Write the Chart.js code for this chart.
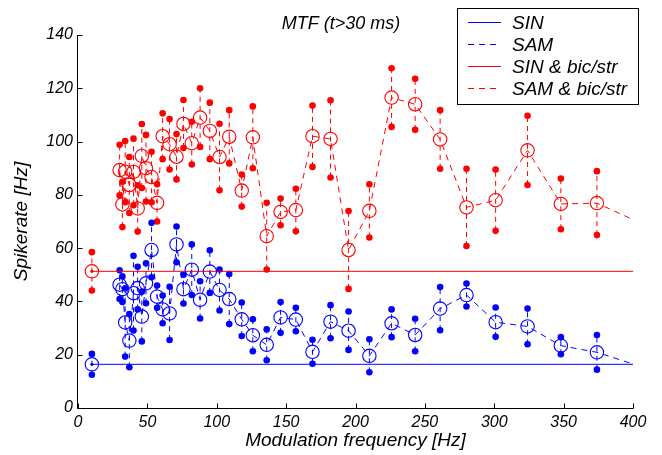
<!DOCTYPE html>
<html>
<head>
<meta charset="utf-8">
<script src="https://cdn.jsdelivr.net/npm/chart.js@4.4.1/dist/chart.umd.min.js"></script>
<style>
  html, body { margin: 0; padding: 0; background: #fff; }
</style>
</head>
<body>
<canvas id="mtfChart" width="662" height="455"></canvas>
<script>
// MTF data
const titleText = 'MTF (t>30 ms)';
const xTicks = [0, 50, 100, 150, 200, 250, 300, 350, 400];
const yTicks = [0, 20, 40, 60, 80, 100, 120, 140];

// SIN (unmodulated) reference, one point each
const sinFreq = 10;
const sinRate = 16.4;
const sinErr = 3.9;
const sinBicRate = 51.3;
const sinBicErr = 7.2;

// SAM modulation frequencies [Hz] (last one lies just past the axis)
const samFreq = [30, 32, 34, 37, 40, 43, 46, 49, 53, 57, 61, 66, 71, 76, 82, 88, 95, 102, 109,
  118, 126, 136, 146, 157, 169, 182, 195, 210, 226, 243, 261, 280, 301, 324, 348, 374, 403];

// SAM spikerate [Hz] and error
const samRate = [46.3, 44.6, 32.1, 25.3, 43.1, 45, 34.3, 46.8, 59.3, 41.8, 37, 35.5, 61.4, 44.6,
  51.9, 40.6, 51.2, 44.3, 40.9, 33.3, 27.3, 23.7, 34, 33.2, 21.1, 32.4, 29, 19.6, 31.8, 27.4,
  37.3, 42.4, 32.2, 30.6, 23.4, 20.9, 16];
const samErr = [5.4, 4.8, 12.8, 10, 14, 8, 9.3, 7.5, 10.2, 4.2, 5.2, 10, 6.7, 5.4, 9.5, 7, 8,
  7.7, 9.4, 6.3, 6, 5.8, 5.8, 4.4, 4.5, 6.2, 7.2, 6.2, 5.2, 6.1, 8.1, 4.3, 5.5, 6.7, 3.2, 6.5, 0];

// SAM & bic/str spikerate [Hz] and error
const samBicRate = [89.3, 76.4, 88.7, 83.7, 88.6, 74.9, 94.6, 90, 86.7, 77, 102, 99, 94.3, 106.6,
  99.4, 109, 104, 94.2, 101.8, 81.6, 101.6, 64.5, 73.6, 74.3, 102, 101, 59.3, 74, 116.5, 114,
  100.8, 75.3, 78, 96.7, 76.6, 76.9, 70];
const samBicErr = [9.5, 8.5, 11.5, 10.5, 12.5, 8.7, 12, 12.5, 9.5, 7, 8.6, 9.5, 8.5, 9, 8, 11,
  10.6, 12.5, 10, 6, 11.6, 12.5, 5, 8, 11.5, 14.5, 14.6, 10, 11, 9.6, 11, 14.5, 11.5, 13, 9.5, 12, 0];

const BLUE = '#0000ff';
const RED = '#ff0000';
const FONT = '"Liberation Sans", Arial, Helvetica, sans-serif';
const xMax = xTicks[xTicks.length - 1];

// build points for the mean curve
function toPoints(xs, ys) {
  return xs.map((x, i) => ({ x: x, y: ys[i] }));
}

// error bars as lo/hi pairs split by gaps
function errPoints(xs, ys, es) {
  const pts = [];
  xs.forEach((x, i) => {
    if (!es[i]) return;
    pts.push({ x: x, y: ys[i] - es[i] });
    pts.push({ x: x, y: ys[i] + es[i] });
    pts.push({ x: x, y: null });
  });
  return pts;
}

function meanSet(label, pts, color, dash) {
  return {
    label: label,
    data: pts,
    showLine: true,
    borderColor: color,
    borderWidth: 1,
    borderDash: dash,
    backgroundColor: 'rgba(0,0,0,0)',
    pointBorderColor: color,
    pointBorderWidth: 1.1,
    pointBackgroundColor: 'rgba(0,0,0,0)',
    // circles on every measured point, none on the line ends past the data
    pointRadius: (c) => {
      if (!c.raw || c.raw.x > xMax) return 0;
      return (dash.length || c.dataIndex === 0) ? 6.7 : 0;
    },
    spanGaps: false,
  };
}

function errSet(pts, color) {
  return {
    label: '',
    data: pts,
    showLine: true,
    borderColor: color,
    borderWidth: 1,
    borderDash: [5, 4],
    pointRadius: (c) => (c.raw && c.raw.y !== null ? 3.3 : 0),
    pointBackgroundColor: color,
    pointBorderColor: color,
    pointBorderWidth: 0,
    spanGaps: false,
  };
}

const datasets = [
  meanSet('SIN', [{ x: sinFreq, y: sinRate }, { x: xMax, y: sinRate }], BLUE, []),
  meanSet('SAM', toPoints(samFreq, samRate), BLUE, [6, 5]),
  meanSet('SIN & bic/str', [{ x: sinFreq, y: sinBicRate }, { x: xMax, y: sinBicRate }], RED, []),
  meanSet('SAM & bic/str', toPoints(samFreq, samBicRate), RED, [6, 5]),
  errSet(errPoints([sinFreq], [sinRate], [sinErr]), BLUE),
  errSet(errPoints(samFreq, samRate, samErr), BLUE),
  errSet(errPoints([sinFreq], [sinBicRate], [sinBicErr]), RED),
  errSet(errPoints(samFreq, samBicRate, samBicErr), RED),
  // small dots at the centre of the SIN markers
  { label: '', data: [{ x: sinFreq, y: sinRate }], pointRadius: 1.6, pointBackgroundColor: BLUE, pointBorderWidth: 0 },
  { label: '', data: [{ x: sinFreq, y: sinBicRate }], pointRadius: 1.6, pointBackgroundColor: RED, pointBorderWidth: 0 },
];

// axis lines with inward ticks, title and boxed legend
const decor = {
  id: 'decor',
  afterDraw(chart) {
    const { ctx, chartArea: a, scales } = chart;
    const L = Math.round(a.left) - 0.5;
    const B = Math.round(a.bottom) + 0.5;
    ctx.save();
    ctx.strokeStyle = '#000';
    ctx.lineWidth = 1;
    ctx.setLineDash([]);
    ctx.beginPath();
    ctx.moveTo(L, Math.round(a.top));
    ctx.lineTo(L, B);
    ctx.lineTo(Math.round(a.right) + 0.5, B);
    xTicks.forEach(v => {
      const px = Math.round(scales.x.getPixelForValue(v)) + 0.5;
      ctx.moveTo(px, B);
      ctx.lineTo(px, B - 5);
    });
    yTicks.forEach(v => {
      const py = Math.round(scales.y.getPixelForValue(v)) + 0.5;
      ctx.moveTo(L, py);
      ctx.lineTo(L + 5, py);
    });
    ctx.stroke();

    ctx.fillStyle = '#000';
    ctx.font = 'italic 18px ' + FONT;
    ctx.textAlign = 'center';
    ctx.textBaseline = 'alphabetic';
    ctx.fillText(titleText, 341, 29);

    // legend
    const bx = 457.5, by = 8.5, bw = 181, bh = 96;
    ctx.fillStyle = '#fff';
    ctx.fillRect(bx, by, bw, bh);
    ctx.strokeRect(bx, by, bw, bh);
    ctx.font = 'italic 19px ' + FONT;
    ctx.textAlign = 'left';
    ctx.textBaseline = 'middle';
    chart.data.datasets.slice(0, 4).forEach((ds, i) => {
      const yy = Math.round(21.7 + i * 22.2) + 0.5;
      ctx.strokeStyle = ds.borderColor;
      ctx.setLineDash(ds.borderDash);
      ctx.beginPath();
      ctx.moveTo(468, yy);
      ctx.lineTo(501, yy);
      ctx.stroke();
      ctx.fillStyle = '#000';
      ctx.fillText(ds.label, 512, yy + 1);
    });
    ctx.restore();
  }
};

new Chart(document.getElementById('mtfChart'), {
  type: 'scatter',
  data: { datasets: datasets },
  options: {
    responsive: false,
    animation: false,
    events: [],
    layout: { padding: { top: 35, right: 29, left: 0, bottom: 0 } },
    plugins: { legend: { display: false }, tooltip: { enabled: false }, title: { display: false } },
    scales: {
      x: {
        type: 'linear',
        min: 0,
        max: xMax,
        afterFit: (s) => { s.height = 47; },
        afterBuildTicks: (s) => { s.ticks = xTicks.map(v => ({ value: v })); },
        grid: { display: false, drawTicks: false },
        border: { display: false },
        ticks: { autoSkip: false, maxRotation: 0, padding: 5, color: '#000', font: { family: FONT, size: 16, style: 'italic' } },
        title: { display: true, text: 'Modulation frequency [Hz]', color: '#000', padding: { top: 0, bottom: 3 }, font: { family: FONT, size: 19, style: 'italic' } },
      },
      y: {
        min: 0,
        max: 140,
        afterFit: (s) => { s.width = 78; },
        afterBuildTicks: (s) => { s.ticks = yTicks.map(v => ({ value: v })); },
        grid: { display: false, drawTicks: false },
        border: { display: false },
        ticks: { autoSkip: false, padding: 5, color: '#000', font: { family: FONT, size: 16, style: 'italic' } },
        title: { display: true, text: 'Spikerate [Hz]', color: '#000', padding: { top: 10, bottom: 0 }, font: { family: FONT, size: 19, style: 'italic' } },
      },
    },
  },
  plugins: [decor],
});
</script>
</body>
</html>
